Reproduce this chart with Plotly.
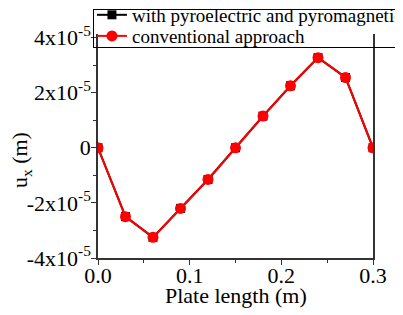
import plotly.graph_objects as go

x_vals = [0.0, 0.03, 0.06, 0.09, 0.12, 0.15, 0.18, 0.21, 0.24, 0.27, 0.30]
with_pyro = [0.0, -2.5e-5, -3.25e-5, -2.2e-5, -1.15e-5, 0.0, 1.15e-5, 2.25e-5, 3.27e-5, 2.55e-5, 0.0]
conventional = [0.0, -2.5e-5, -3.25e-5, -2.2e-5, -1.15e-5, 0.0, 1.15e-5, 2.25e-5, 3.27e-5, 2.55e-5, 0.0]

y_tickvals = [-4e-5, -2e-5, 0, 2e-5, 4e-5]
y_ticktext = ["-4x10<sup>-5</sup>", "-2x10<sup>-5</sup>", "0", "2x10<sup>-5</sup>", "4x10<sup>-5</sup>"]
y_minor = [-3e-5, -1e-5, 1e-5, 3e-5]
x_tickvals = [0.0, 0.1, 0.2, 0.3]
x_ticktext = ["0.0", "0.1", "0.2", "0.3"]
x_minor = [0.05, 0.15, 0.25]

FONT = "Liberation Serif"
AX = "#333333"

fig = go.Figure()
fig.add_trace(go.Scatter(
    x=x_vals, y=with_pyro, mode="lines+markers",
    name="with pyroelectric and pyromagnetic", legend="legend",
    line=dict(color="black", width=2),
    marker=dict(symbol="square", size=9, color="black"),
))
fig.add_trace(go.Scatter(
    x=x_vals, y=conventional, mode="lines+markers",
    name="conventional approach", legend="legend2",
    line=dict(color="red", width=2),
    marker=dict(symbol="circle", size=11, color="red"),
))

leg_common = dict(
    x=-0.022, xanchor="left", yanchor="middle", borderwidth=0,
    font=dict(family=FONT, size=19, color="black"), itemwidth=30,
)

fig.update_layout(
    width=395, height=307,
    margin=dict(l=90, r=30, t=2, b=57, autoexpand=False),
    paper_bgcolor="white", plot_bgcolor="white",
    font=dict(family=FONT, size=22, color="black"),
    showlegend=True,
    legend=dict(y=0.980, bgcolor="white", **leg_common),
    legend2=dict(y=0.895, bgcolor="rgba(0,0,0,0)", **leg_common),
    xaxis=dict(
        range=[0, 0.3], tickvals=x_tickvals, ticktext=x_ticktext, automargin=False,
        ticks="outside", ticklen=5, tickcolor=AX, linecolor=AX, linewidth=1.5,
        showline=True, mirror=False, showgrid=False, zeroline=False,
        minor=dict(tickvals=x_minor, ticks="outside", ticklen=3, tickcolor=AX),
        tickfont=dict(family=FONT, size=22, color="black"),
        ticklabelstandoff=-8,
    ),
    yaxis=dict(
        range=[-4e-5, 5e-5], tickvals=y_tickvals, ticktext=y_ticktext, automargin=False,
        ticks="outside", ticklen=5, tickcolor=AX, linecolor=AX, linewidth=1.5,
        showline=True, mirror=True, showgrid=False, zeroline=False,
        minor=dict(tickvals=y_minor, ticks="outside", ticklen=3, tickcolor=AX),
        tickfont=dict(family=FONT, size=22, color="black"),
        ticklabelstandoff=-4,
    ),
    annotations=[
        dict(text="Plate length (m)", xref="paper", yref="paper", x=0.5, y=-0.153,
             xanchor="center", yanchor="middle", showarrow=False,
             font=dict(family=FONT, size=22, color="black")),
        dict(text="u<sub>x</sub> (m)", xref="paper", yref="paper", x=-0.28, y=0.395,
             xanchor="center", yanchor="middle", showarrow=False, textangle=-90,
             font=dict(family=FONT, size=22, color="black")),
        dict(text="&nbsp;", xref="paper", yref="paper", x=-0.0182, y=1.006,
             xanchor="left", yanchor="top", showarrow=False,
             width=304, height=37, borderpad=0, borderwidth=1,
             bordercolor="black", bgcolor="rgba(0,0,0,0)",
             font=dict(family=FONT, size=10, color="black")),
    ],
)

fig.write_html("out.html")
